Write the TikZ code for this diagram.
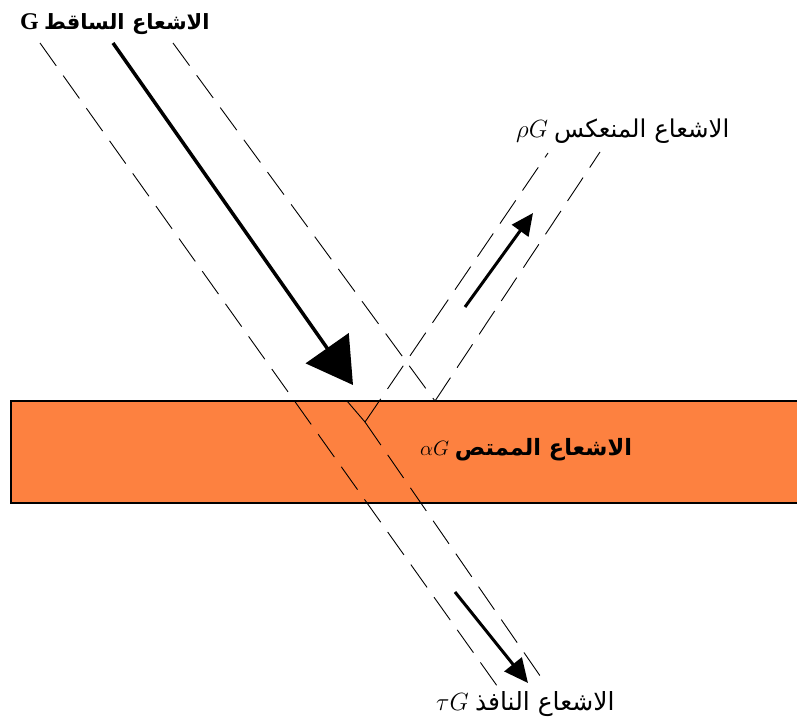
\documentclass[tikz,border=0pt]{standalone}
\usepackage{fontspec}
\setmainfont{Liberation Serif}
\newfontfamily\arabicfont[Script=Arabic]{DejaVu Sans}
\TeXXeTstate=1
\usetikzlibrary{arrows.meta}
\definecolor{slab}{RGB}{253,129,64}
\tikzset{
  beam/.style={line width=0.9pt, dash pattern=on 28pt off 12pt},
  ray/.style={line width=3pt},
  lbl/.style={anchor=west, inner sep=0pt},
}
\begin{document}
\begin{tikzpicture}[x=1pt,y=-1pt]
\useasboundingbox (0,0) rectangle (797,726);
% slab
\draw[fill=slab, line width=1.5pt] (11,401) rectangle (800,503);
% beam boundary points
\coordinate (a1) at (40,43);
\coordinate (a2) at (500,690);
\coordinate (b1) at (173,43);
\coordinate (b2) at (435,401);
\coordinate (c0) at (347,401);
\coordinate (cJ) at (365,422);
\coordinate (rL) at (548,153);
\coordinate (rR) at (600,152);
\coordinate (tR) at (545,683);
\draw[beam] (a1) -- (a2);
\draw[beam] (b1) -- (b2);
\draw[beam] (b2) -- (rR);
\draw[beam] (cJ) -- (rL);
\draw[beam] (c0) -- (cJ);
\draw[beam] (cJ) -- (tR);
% solid rays
\coordinate (i1) at (113,43);
\coordinate (i2) at (353,385);
\coordinate (r1) at (465,307);
\coordinate (r2) at (533,213);
\coordinate (t1) at (455,592);
\coordinate (t2) at (528,683);
\draw[line width=3.5pt, -{Triangle[length=45pt,width=52pt]}] (i1) -- (i2);
\draw[ray, -{Triangle[length=22pt,width=20pt]}] (r1) -- (r2);
\draw[ray, -{Triangle[length=24pt,width=22pt]}] (t1) -- (t2);
% labels
\node[lbl, font=\fontsize{21}{24}\selectfont] (lg) at (20,24) {{\fontsize{24}{26}\selectfont\textbf{G}} {\arabicfont\bfseries\beginR الاشعاع الساقط\endR}};
\node[lbl, font=\fontsize{24.5}{27}\selectfont] (lr) at (516,131) {$\rho G$ {\arabicfont\beginR الاشعاع المنعكس\endR}};
\node[lbl, font=\fontsize{22.5}{25}\selectfont] (la) at (420,450) {$\alpha G$ {\arabicfont\bfseries\beginR الاشعاع الممتص\endR}};
\node[lbl, font=\fontsize{25}{28}\selectfont] (lt) at (436,704) {$\tau G$ {\arabicfont\beginR الاشعاع النافذ\endR}};
\end{tikzpicture}
\end{document}
